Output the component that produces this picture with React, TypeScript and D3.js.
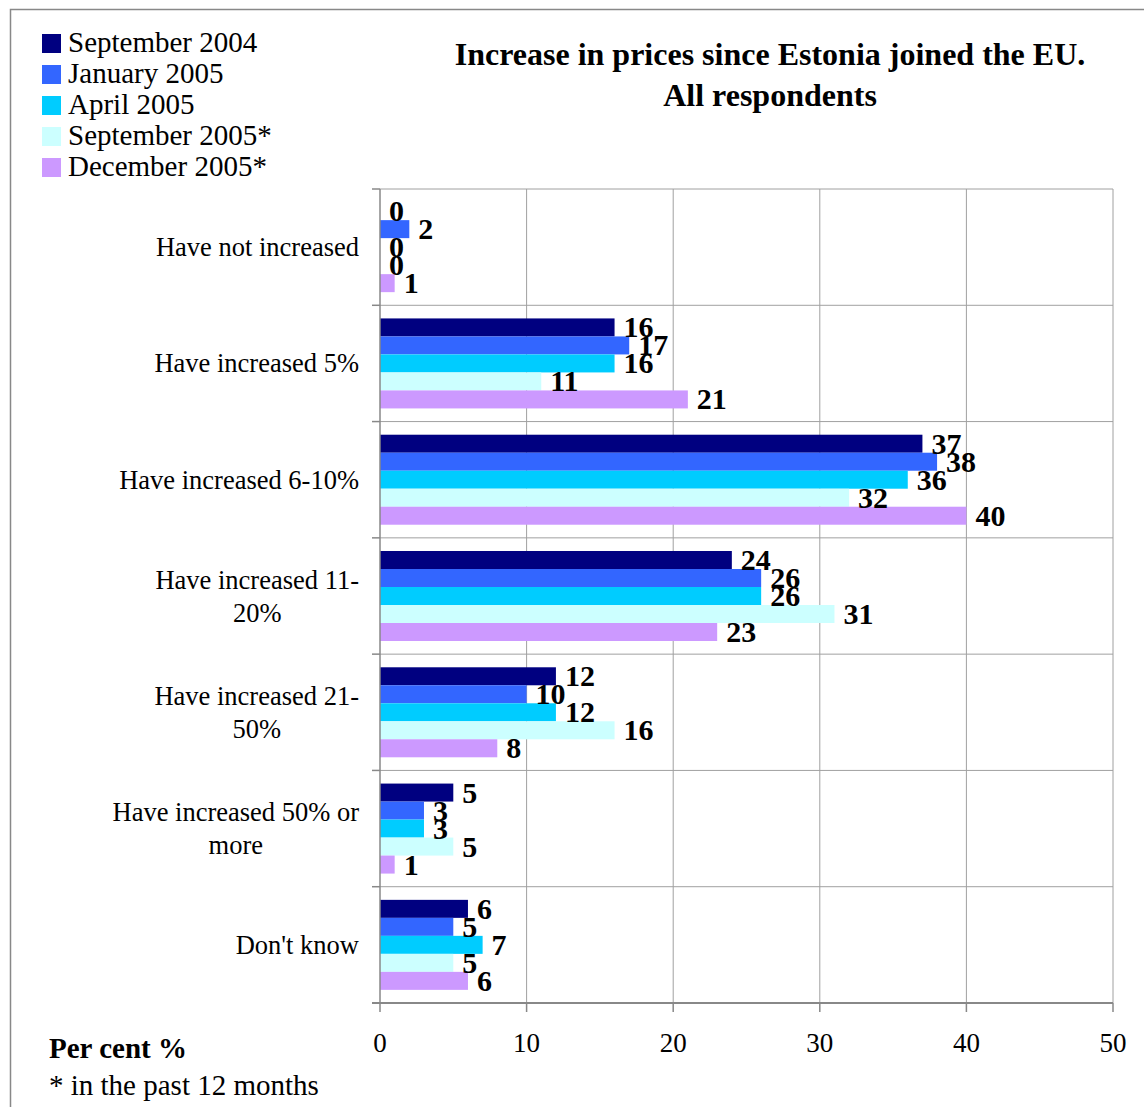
import React from "react";
import * as d3 from "d3";

const categories = [
  "Have not increased",
  "Have increased 5%",
  "Have increased 6-10%",
  "Have increased 11-\n20%",
  "Have increased 21-\n50%",
  "Have increased 50% or\nmore",
  "Don't know",
];
const seriesNames = [
  "September 2004",
  "January 2005",
  "April 2005",
  "September 2005*",
  "December 2005*",
];
const sep2004 = [0, 16, 37, 24, 12, 5, 6];
const jan2005 = [2, 17, 38, 26, 10, 3, 5];
const apr2005 = [0, 16, 36, 26, 12, 3, 7];
const sep2005 = [0, 11, 32, 31, 16, 5, 5];
const dec2005 = [1, 21, 40, 23, 8, 1, 6];
const seriesValues = [sep2004, jan2005, apr2005, sep2005, dec2005];
const colors = ["#000080", "#3366FF", "#00CCFF", "#CCFFFF", "#CC99FF"];
const xTicks = [0, 10, 20, 30, 40, 50];
const titleLines = ["Increase in prices since Estonia joined the EU.", "All respondents"];

const FONT = "'Liberation Serif', 'Times New Roman', serif";

let measureCtx: CanvasRenderingContext2D | null = null;
function measure(text: string, font: string) {
  if (!measureCtx) measureCtx = document.createElement("canvas").getContext("2d");
  if (!measureCtx) return text.length * 10;
  measureCtx.font = font;
  return measureCtx.measureText(text).width;
}

export default function App() {
  const W = 1144, H = 1107;
  const left = 380, right = 1113, top = 189, bottom = 1003;
  const x = d3.scaleLinear().domain([0, 50]).range([left, right]);
  const y0 = d3.scaleBand<string>().domain(categories).range([top, bottom]);
  const y1 = d3
    .scaleBand<string>()
    .domain(seriesNames)
    .range([0, y0.bandwidth()])
    .paddingInner(0)
    .paddingOuter(0.73);

  const catFontSize = 26.5;
  const catFont = `${catFontSize}px ${FONT}`;
  const boundaries = [...categories.map((c) => y0(c)!), bottom];

  return (
    <svg
      width={W}
      height={H}
      style={{ position: "absolute", left: 0, top: 0, background: "#fff" }}
      fontFamily={FONT}
    >
      <rect x={10.5} y={9.5} width={2000} height={2000} fill="#fff" stroke="#888" strokeWidth={1.5} />

      {/* title */}
      {titleLines.map((t, i) => (
        <text key={t} x={770} y={65 + i * 41} textAnchor="middle" fontWeight="bold" fontSize={32} fill="#000">
          {t}
        </text>
      ))}

      {/* legend */}
      {seriesNames.map((s, i) => (
        <g key={s} transform={`translate(42, ${34 + i * 31})`}>
          <rect x={0} y={0} width={19} height={19} fill={colors[i]} />
          <text x={26} y={18} fontSize={29} fill="#000">
            {s}
          </text>
        </g>
      ))}

      {/* vertical grid lines */}
      {xTicks.slice(1).map((t) => (
        <line key={"g" + t} x1={x(t)} x2={x(t)} y1={top} y2={bottom} stroke="#a0a0a0" strokeWidth={1} />
      ))}
      {/* horizontal grid lines */}
      {boundaries.slice(0, -1).map((b, i) => (
        <line key={"h" + i} x1={left} x2={right} y1={b} y2={b} stroke="#a0a0a0" strokeWidth={1} />
      ))}

      {/* bars */}
      {categories.map((c, ci) => (
        <g key={c}>
          {seriesNames.map((s, si) => {
            const v = seriesValues[si][ci];
            const yb = y0(c)! + y1(s)!;
            return (
              <rect
                key={s}
                x={x(0)}
                y={yb}
                width={x(v) - x(0)}
                height={y1.bandwidth()}
                fill={colors[si]}
              />
            );
          })}
        </g>
      ))}

      {/* axes */}
      <line x1={left} x2={left} y1={top} y2={bottom} stroke="#888" strokeWidth={1.5} />
      {boundaries.map((b, i) => (
        <line key={"yt" + i} x1={left - 8} x2={left} y1={b} y2={b} stroke="#888" strokeWidth={1.5} />
      ))}
      <line x1={left - 8} x2={right} y1={bottom} y2={bottom} stroke="#888" strokeWidth={2} />
      {xTicks.map((t) => (
        <line key={"xt" + t} x1={x(t)} x2={x(t)} y1={bottom} y2={bottom + 9} stroke="#888" strokeWidth={1.5} />
      ))}
      {xTicks.map((t) => (
        <text key={"xl" + t} x={x(t)} y={1052} textAnchor="middle" fontSize={27} fill="#000">
          {t}
        </text>
      ))}

      {/* category labels */}
      {categories.map((c) => {
        const lines = c.split("\n");
        const maxW = Math.max(...lines.map((l) => measure(l, catFont)));
        const cx = 359 - maxW / 2;
        const cy = y0(c)! + y0.bandwidth() / 2;
        const lh = 33;
        return (
          <g key={"cl" + c}>
            {lines.map((l, li) => (
              <text
                key={li}
                x={cx}
                y={cy + (li - (lines.length - 1) / 2) * lh + 9}
                textAnchor="middle"
                fontSize={catFontSize}
                fill="#000"
              >
                {l}
              </text>
            ))}
          </g>
        );
      })}

      {/* value labels */}
      {categories.map((c, ci) => (
        <g key={"vl" + c}>
          {seriesNames.map((s, si) => {
            const v = seriesValues[si][ci];
            const yc = y0(c)! + y1(s)! + y1.bandwidth() / 2;
            return (
              <text key={s} x={x(v) + 9} y={yc + 10} fontSize={30} fontWeight="bold" fill="#000">
                {v}
              </text>
            );
          })}
        </g>
      ))}

      {/* footnotes */}
      <text x={49} y={1058} fontSize={29} fontWeight="bold" fill="#000">
        Per cent %
      </text>
      <text x={49} y={1095} fontSize={29} fill="#000">
        * in the past 12 months
      </text>
    </svg>
  );
}
